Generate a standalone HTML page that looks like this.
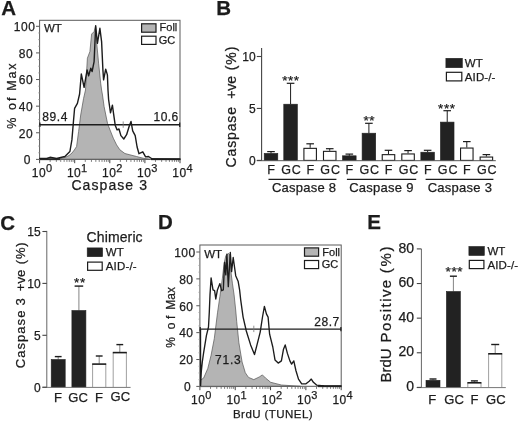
<!DOCTYPE html>
<html lang="en"><head><meta charset="utf-8"><title>Figure</title>
<style>
html,body{margin:0;padding:0;background:#fff;}
svg{display:block;font-family:"Liberation Sans",Arial,sans-serif;fill:#1c1c1c;filter:grayscale(1) blur(0.35px);}
text{stroke:#1c1c1c;stroke-width:0.25px;}
</style></head><body>
<svg width="520" height="421" viewBox="0 0 520 421">
<rect width="520" height="421" fill="#fff"/>
<text x="1.20" y="15.30" font-size="20.5" font-weight="bold">A</text>
<text x="216.20" y="15.00" font-size="20.5" font-weight="bold">B</text>
<text x="0.30" y="230.20" font-size="20.5" font-weight="bold">C</text>
<text x="157.90" y="228.60" font-size="20.5" font-weight="bold">D</text>
<text x="367.30" y="229.40" font-size="20.5" font-weight="bold">E</text>
<path d="M57.5 159.3 L62.0 158.2 L66.0 157.0 L69.0 155.5 L72.0 153.0 L74.3 150.0 L76.6 146.5 L78.6 131.6 L80.7 115.0 L83.6 98.3 L85.5 90.0 L87.4 58.2 L89.9 51.6 L91.6 34.1 L94.1 31.6 L95.5 25.8 L96.9 45.0 L98.6 63.2 L100.7 83.2 L101.6 90.0 L102.5 95.0 L104.1 106.6 L107.5 123.3 L110.0 129.9 L113.3 138.2 L116.6 144.9 L119.9 149.8 L124.9 153.5 L129.9 154.8 L136.5 156.5 L143.2 158.2 L149.8 159.3 Z" fill="#b4b4b4" stroke="#555" stroke-width="0.7" stroke-linejoin="round" stroke-linecap="round"/>
<rect x="39.60" y="20.30" width="140.40" height="139.00" fill="none" stroke="#5a5a5a" stroke-width="1.0"/>
<line x1="39.60" y1="159.20" x2="60.00" y2="159.20" stroke="#262626" stroke-width="1.9" stroke-linecap="butt"/>
<line x1="151.00" y1="159.20" x2="180.40" y2="159.20" stroke="#262626" stroke-width="1.9" stroke-linecap="butt"/>
<path d="M39.8 158.4 L46.7 158.5 L50.0 157.3 L56.6 158.5 L64.9 156.5 L69.9 151.5 L71.9 139.9 L73.3 123.3 L74.6 108.3 L77.4 103.3 L79.6 94.0 L81.3 74.0 L84.1 87.3 L87.1 69.9 L88.6 75.7 L90.8 68.2 L92.1 71.5 L94.1 61.6 L95.7 25.8 L97.4 43.3 L99.9 28.3 L101.6 41.6 L102.9 69.9 L103.6 79.9 L105.7 69.1 L107.4 74.9 L108.0 90.0 L108.6 99.5 L110.5 112.8 L112.4 105.2 L113.7 114.7 L115.2 125.2 L117.1 129.9 L119.0 129.0 L120.9 135.6 L123.8 139.0 L126.6 134.7 L129.5 125.2 L131.0 121.4 L132.7 130.9 L135.2 135.6 L137.1 147.0 L139.0 153.7 L142.8 151.8 L145.6 156.9 L148.5 156.5 L152.3 159.0 L180.0 159.3" fill="none" stroke="#1c1c1c" stroke-width="1.4" stroke-linejoin="round" stroke-linecap="round"/>
<line x1="39.60" y1="124.80" x2="180.00" y2="124.80" stroke="#1c1c1c" stroke-width="1.4" stroke-linecap="butt"/>
<line x1="39.90" y1="122.60" x2="39.90" y2="127.00" stroke="#1c1c1c" stroke-width="1.2" stroke-linecap="butt"/>
<line x1="179.70" y1="122.60" x2="179.70" y2="127.00" stroke="#1c1c1c" stroke-width="1.2" stroke-linecap="butt"/>
<line x1="123.20" y1="121.40" x2="123.20" y2="127.80" stroke="#777" stroke-width="0.8" stroke-linecap="butt"/>
<line x1="36.00" y1="159.40" x2="39.60" y2="159.40" stroke="#5a5a5a" stroke-width="1.0" stroke-linecap="butt"/>
<text x="31.00" y="164.20" font-size="12" text-anchor="end" letter-spacing="0.5">0</text>
<line x1="36.00" y1="132.78" x2="39.60" y2="132.78" stroke="#5a5a5a" stroke-width="1.0" stroke-linecap="butt"/>
<text x="33.20" y="137.58" font-size="12" text-anchor="end" letter-spacing="0.5">20</text>
<line x1="36.00" y1="106.16" x2="39.60" y2="106.16" stroke="#5a5a5a" stroke-width="1.0" stroke-linecap="butt"/>
<text x="33.20" y="110.96" font-size="12" text-anchor="end" letter-spacing="0.5">40</text>
<line x1="36.00" y1="79.54" x2="39.60" y2="79.54" stroke="#5a5a5a" stroke-width="1.0" stroke-linecap="butt"/>
<text x="33.20" y="84.34" font-size="12" text-anchor="end" letter-spacing="0.5">60</text>
<line x1="36.00" y1="52.92" x2="39.60" y2="52.92" stroke="#5a5a5a" stroke-width="1.0" stroke-linecap="butt"/>
<text x="33.20" y="57.72" font-size="12" text-anchor="end" letter-spacing="0.5">80</text>
<line x1="36.00" y1="26.30" x2="39.60" y2="26.30" stroke="#5a5a5a" stroke-width="1.0" stroke-linecap="butt"/>
<text x="35.40" y="31.10" font-size="12" text-anchor="end" letter-spacing="0.5">100</text>
<line x1="38.10" y1="152.75" x2="39.60" y2="152.75" stroke="#999" stroke-width="0.7" stroke-linecap="butt"/>
<line x1="38.10" y1="146.09" x2="39.60" y2="146.09" stroke="#999" stroke-width="0.7" stroke-linecap="butt"/>
<line x1="38.10" y1="139.44" x2="39.60" y2="139.44" stroke="#999" stroke-width="0.7" stroke-linecap="butt"/>
<line x1="38.10" y1="126.12" x2="39.60" y2="126.12" stroke="#999" stroke-width="0.7" stroke-linecap="butt"/>
<line x1="38.10" y1="119.47" x2="39.60" y2="119.47" stroke="#999" stroke-width="0.7" stroke-linecap="butt"/>
<line x1="38.10" y1="112.81" x2="39.60" y2="112.81" stroke="#999" stroke-width="0.7" stroke-linecap="butt"/>
<line x1="38.10" y1="99.51" x2="39.60" y2="99.51" stroke="#999" stroke-width="0.7" stroke-linecap="butt"/>
<line x1="38.10" y1="92.85" x2="39.60" y2="92.85" stroke="#999" stroke-width="0.7" stroke-linecap="butt"/>
<line x1="38.10" y1="86.20" x2="39.60" y2="86.20" stroke="#999" stroke-width="0.7" stroke-linecap="butt"/>
<line x1="38.10" y1="72.89" x2="39.60" y2="72.89" stroke="#999" stroke-width="0.7" stroke-linecap="butt"/>
<line x1="38.10" y1="66.23" x2="39.60" y2="66.23" stroke="#999" stroke-width="0.7" stroke-linecap="butt"/>
<line x1="38.10" y1="59.58" x2="39.60" y2="59.58" stroke="#999" stroke-width="0.7" stroke-linecap="butt"/>
<line x1="38.10" y1="46.27" x2="39.60" y2="46.27" stroke="#999" stroke-width="0.7" stroke-linecap="butt"/>
<line x1="38.10" y1="39.61" x2="39.60" y2="39.61" stroke="#999" stroke-width="0.7" stroke-linecap="butt"/>
<line x1="38.10" y1="32.96" x2="39.60" y2="32.96" stroke="#999" stroke-width="0.7" stroke-linecap="butt"/>
<line x1="39.60" y1="159.90" x2="39.60" y2="163.20" stroke="#444" stroke-width="1.0" stroke-linecap="butt"/>
<line x1="50.17" y1="159.90" x2="50.17" y2="161.90" stroke="#4a4a4a" stroke-width="0.7" stroke-linecap="butt"/>
<line x1="56.35" y1="159.90" x2="56.35" y2="161.90" stroke="#4a4a4a" stroke-width="0.7" stroke-linecap="butt"/>
<line x1="60.73" y1="159.90" x2="60.73" y2="161.90" stroke="#4a4a4a" stroke-width="0.7" stroke-linecap="butt"/>
<line x1="64.13" y1="159.90" x2="64.13" y2="161.90" stroke="#4a4a4a" stroke-width="0.7" stroke-linecap="butt"/>
<line x1="66.91" y1="159.90" x2="66.91" y2="161.90" stroke="#4a4a4a" stroke-width="0.7" stroke-linecap="butt"/>
<line x1="69.26" y1="159.90" x2="69.26" y2="161.90" stroke="#4a4a4a" stroke-width="0.7" stroke-linecap="butt"/>
<line x1="71.30" y1="159.90" x2="71.30" y2="161.90" stroke="#4a4a4a" stroke-width="0.7" stroke-linecap="butt"/>
<line x1="73.09" y1="159.90" x2="73.09" y2="161.90" stroke="#4a4a4a" stroke-width="0.7" stroke-linecap="butt"/>
<text x="39.00" y="177.00" font-size="12" text-anchor="middle" letter-spacing="0.5">10</text>
<text x="46.00" y="172.40" font-size="11">0</text>
<line x1="74.70" y1="159.90" x2="74.70" y2="163.20" stroke="#444" stroke-width="1.0" stroke-linecap="butt"/>
<line x1="85.27" y1="159.90" x2="85.27" y2="161.90" stroke="#4a4a4a" stroke-width="0.7" stroke-linecap="butt"/>
<line x1="91.45" y1="159.90" x2="91.45" y2="161.90" stroke="#4a4a4a" stroke-width="0.7" stroke-linecap="butt"/>
<line x1="95.83" y1="159.90" x2="95.83" y2="161.90" stroke="#4a4a4a" stroke-width="0.7" stroke-linecap="butt"/>
<line x1="99.23" y1="159.90" x2="99.23" y2="161.90" stroke="#4a4a4a" stroke-width="0.7" stroke-linecap="butt"/>
<line x1="102.01" y1="159.90" x2="102.01" y2="161.90" stroke="#4a4a4a" stroke-width="0.7" stroke-linecap="butt"/>
<line x1="104.36" y1="159.90" x2="104.36" y2="161.90" stroke="#4a4a4a" stroke-width="0.7" stroke-linecap="butt"/>
<line x1="106.40" y1="159.90" x2="106.40" y2="161.90" stroke="#4a4a4a" stroke-width="0.7" stroke-linecap="butt"/>
<line x1="108.19" y1="159.90" x2="108.19" y2="161.90" stroke="#4a4a4a" stroke-width="0.7" stroke-linecap="butt"/>
<text x="74.10" y="177.00" font-size="12" text-anchor="middle" letter-spacing="0.5">10</text>
<text x="81.10" y="172.40" font-size="11">1</text>
<line x1="109.80" y1="159.90" x2="109.80" y2="163.20" stroke="#444" stroke-width="1.0" stroke-linecap="butt"/>
<line x1="120.37" y1="159.90" x2="120.37" y2="161.90" stroke="#4a4a4a" stroke-width="0.7" stroke-linecap="butt"/>
<line x1="126.55" y1="159.90" x2="126.55" y2="161.90" stroke="#4a4a4a" stroke-width="0.7" stroke-linecap="butt"/>
<line x1="130.93" y1="159.90" x2="130.93" y2="161.90" stroke="#4a4a4a" stroke-width="0.7" stroke-linecap="butt"/>
<line x1="134.33" y1="159.90" x2="134.33" y2="161.90" stroke="#4a4a4a" stroke-width="0.7" stroke-linecap="butt"/>
<line x1="137.11" y1="159.90" x2="137.11" y2="161.90" stroke="#4a4a4a" stroke-width="0.7" stroke-linecap="butt"/>
<line x1="139.46" y1="159.90" x2="139.46" y2="161.90" stroke="#4a4a4a" stroke-width="0.7" stroke-linecap="butt"/>
<line x1="141.50" y1="159.90" x2="141.50" y2="161.90" stroke="#4a4a4a" stroke-width="0.7" stroke-linecap="butt"/>
<line x1="143.29" y1="159.90" x2="143.29" y2="161.90" stroke="#4a4a4a" stroke-width="0.7" stroke-linecap="butt"/>
<text x="109.20" y="177.00" font-size="12" text-anchor="middle" letter-spacing="0.5">10</text>
<text x="116.20" y="172.40" font-size="11">2</text>
<line x1="144.90" y1="159.90" x2="144.90" y2="163.20" stroke="#444" stroke-width="1.0" stroke-linecap="butt"/>
<line x1="155.47" y1="159.90" x2="155.47" y2="161.90" stroke="#4a4a4a" stroke-width="0.7" stroke-linecap="butt"/>
<line x1="161.65" y1="159.90" x2="161.65" y2="161.90" stroke="#4a4a4a" stroke-width="0.7" stroke-linecap="butt"/>
<line x1="166.03" y1="159.90" x2="166.03" y2="161.90" stroke="#4a4a4a" stroke-width="0.7" stroke-linecap="butt"/>
<line x1="169.43" y1="159.90" x2="169.43" y2="161.90" stroke="#4a4a4a" stroke-width="0.7" stroke-linecap="butt"/>
<line x1="172.21" y1="159.90" x2="172.21" y2="161.90" stroke="#4a4a4a" stroke-width="0.7" stroke-linecap="butt"/>
<line x1="174.56" y1="159.90" x2="174.56" y2="161.90" stroke="#4a4a4a" stroke-width="0.7" stroke-linecap="butt"/>
<line x1="176.60" y1="159.90" x2="176.60" y2="161.90" stroke="#4a4a4a" stroke-width="0.7" stroke-linecap="butt"/>
<line x1="178.39" y1="159.90" x2="178.39" y2="161.90" stroke="#4a4a4a" stroke-width="0.7" stroke-linecap="butt"/>
<text x="144.30" y="177.00" font-size="12" text-anchor="middle" letter-spacing="0.5">10</text>
<text x="151.30" y="172.40" font-size="11">3</text>
<line x1="180.00" y1="159.90" x2="180.00" y2="163.20" stroke="#444" stroke-width="1.0" stroke-linecap="butt"/>
<text x="179.40" y="177.00" font-size="12" text-anchor="middle" letter-spacing="0.5">10</text>
<text x="186.40" y="172.40" font-size="11">4</text>
<text x="42.30" y="121.30" font-size="12" textLength="25.20" lengthAdjust="spacing">89.4</text>
<text x="153.60" y="121.30" font-size="12" textLength="24.60" lengthAdjust="spacing">10.6</text>
<text x="44.00" y="32.30" font-size="11.5">WT</text>
<rect x="141.60" y="23.80" width="14.40" height="8.40" fill="#b4b4b4" stroke="#1c1c1c" stroke-width="1.2"/>
<rect x="141.60" y="36.20" width="14.40" height="8.20" fill="#fff" stroke="#1c1c1c" stroke-width="1.2"/>
<text x="159.60" y="31.30" font-size="11">Foll</text>
<text x="158.80" y="43.80" font-size="11">GC</text>
<text x="71.40" y="189.60" font-size="14" textLength="75.60" lengthAdjust="spacing">Caspase 3</text>
<text x="15.60" y="128.80" font-size="12.5" transform="rotate(-90 15.60 128.80)">%</text>
<text x="15.60" y="110.00" font-size="12.5" textLength="12.60" lengthAdjust="spacing" transform="rotate(-90 15.60 110.00)">of</text>
<text x="15.60" y="90.80" font-size="12.5" textLength="27.40" lengthAdjust="spacing" transform="rotate(-90 15.60 90.80)">Max</text>
<path d="M200.2 386.3 L200.3 380.2 L203.6 378.1 L207.8 368.4 L211.0 355.6 L214.3 338.5 L217.5 312.8 L219.9 296.5 L222.4 278.2 L224.1 263.3 L225.8 255.8 L228.3 253.3 L229.9 255.0 L230.7 269.9 L232.4 283.2 L234.1 294.9 L235.7 310.0 L236.7 321.4 L238.9 342.8 L242.1 362.0 L245.3 372.7 L248.5 377.4 L253.8 379.6 L259.2 377.0 L262.4 374.9 L265.6 378.1 L270.7 382.3 L281.4 385.0 L300.0 386.3 Z" fill="#b4b4b4" stroke="#555" stroke-width="0.7" stroke-linejoin="round" stroke-linecap="round"/>
<rect x="199.90" y="245.00" width="141.30" height="141.30" fill="none" stroke="#5a5a5a" stroke-width="1.0"/>
<line x1="318.00" y1="386.20" x2="341.60" y2="386.20" stroke="#262626" stroke-width="1.9" stroke-linecap="butt"/>
<path d="M200.5 329.5 L200.6 385.6 L201.3 371.4 L202.3 362.0 L203.6 352.9 L206.4 335.7 L208.5 327.0 L209.3 312.0 L210.0 294.9 L211.1 277.9 L213.0 289.9 L214.6 290.7 L215.8 299.0 L217.4 289.9 L219.9 283.6 L221.6 290.7 L223.3 289.9 L224.6 262.4 L225.8 274.9 L226.9 254.1 L228.3 286.6 L230.3 252.5 L231.6 271.6 L233.2 257.5 L235.7 275.7 L238.2 281.6 L239.6 289.9 L240.7 299.9 L243.1 317.1 L246.3 331.0 L250.6 344.9 L254.5 354.5 L257.0 344.9 L260.2 332.1 L262.5 317.0 L264.4 306.4 L266.4 313.9 L268.1 317.1 L269.6 334.2 L272.8 347.0 L275.0 359.9 L278.2 363.1 L281.4 360.9 L283.5 349.2 L285.2 344.9 L287.4 353.4 L289.9 360.9 L291.6 364.1 L293.8 360.9 L295.9 370.5 L298.5 379.1 L301.7 383.8 L306.0 383.8 L309.2 381.2 L311.3 379.1 L313.4 382.3 L316.6 385.1 L324.1 385.9 L341.0 386.1" fill="none" stroke="#1c1c1c" stroke-width="1.35" stroke-linejoin="round" stroke-linecap="round"/>
<line x1="199.90" y1="329.10" x2="341.20" y2="329.10" stroke="#1c1c1c" stroke-width="1.4" stroke-linecap="butt"/>
<line x1="200.20" y1="326.90" x2="200.20" y2="331.30" stroke="#1c1c1c" stroke-width="1.2" stroke-linecap="butt"/>
<line x1="340.90" y1="326.90" x2="340.90" y2="331.30" stroke="#1c1c1c" stroke-width="1.2" stroke-linecap="butt"/>
<line x1="253.80" y1="325.70" x2="253.80" y2="332.10" stroke="#777" stroke-width="0.8" stroke-linecap="butt"/>
<line x1="196.30" y1="386.40" x2="199.90" y2="386.40" stroke="#5a5a5a" stroke-width="1.0" stroke-linecap="butt"/>
<text x="191.30" y="391.20" font-size="12" text-anchor="end" letter-spacing="0.5">0</text>
<line x1="196.30" y1="359.52" x2="199.90" y2="359.52" stroke="#5a5a5a" stroke-width="1.0" stroke-linecap="butt"/>
<text x="193.50" y="364.32" font-size="12" text-anchor="end" letter-spacing="0.5">20</text>
<line x1="196.30" y1="332.64" x2="199.90" y2="332.64" stroke="#5a5a5a" stroke-width="1.0" stroke-linecap="butt"/>
<text x="193.50" y="337.44" font-size="12" text-anchor="end" letter-spacing="0.5">40</text>
<line x1="196.30" y1="305.76" x2="199.90" y2="305.76" stroke="#5a5a5a" stroke-width="1.0" stroke-linecap="butt"/>
<text x="193.50" y="310.56" font-size="12" text-anchor="end" letter-spacing="0.5">60</text>
<line x1="196.30" y1="278.88" x2="199.90" y2="278.88" stroke="#5a5a5a" stroke-width="1.0" stroke-linecap="butt"/>
<text x="193.50" y="283.68" font-size="12" text-anchor="end" letter-spacing="0.5">80</text>
<line x1="196.30" y1="252.00" x2="199.90" y2="252.00" stroke="#5a5a5a" stroke-width="1.0" stroke-linecap="butt"/>
<text x="195.70" y="256.80" font-size="12" text-anchor="end" letter-spacing="0.5">100</text>
<line x1="198.40" y1="379.68" x2="199.90" y2="379.68" stroke="#999" stroke-width="0.7" stroke-linecap="butt"/>
<line x1="198.40" y1="372.96" x2="199.90" y2="372.96" stroke="#999" stroke-width="0.7" stroke-linecap="butt"/>
<line x1="198.40" y1="366.24" x2="199.90" y2="366.24" stroke="#999" stroke-width="0.7" stroke-linecap="butt"/>
<line x1="198.40" y1="352.80" x2="199.90" y2="352.80" stroke="#999" stroke-width="0.7" stroke-linecap="butt"/>
<line x1="198.40" y1="346.08" x2="199.90" y2="346.08" stroke="#999" stroke-width="0.7" stroke-linecap="butt"/>
<line x1="198.40" y1="339.36" x2="199.90" y2="339.36" stroke="#999" stroke-width="0.7" stroke-linecap="butt"/>
<line x1="198.40" y1="325.92" x2="199.90" y2="325.92" stroke="#999" stroke-width="0.7" stroke-linecap="butt"/>
<line x1="198.40" y1="319.20" x2="199.90" y2="319.20" stroke="#999" stroke-width="0.7" stroke-linecap="butt"/>
<line x1="198.40" y1="312.48" x2="199.90" y2="312.48" stroke="#999" stroke-width="0.7" stroke-linecap="butt"/>
<line x1="198.40" y1="299.04" x2="199.90" y2="299.04" stroke="#999" stroke-width="0.7" stroke-linecap="butt"/>
<line x1="198.40" y1="292.32" x2="199.90" y2="292.32" stroke="#999" stroke-width="0.7" stroke-linecap="butt"/>
<line x1="198.40" y1="285.60" x2="199.90" y2="285.60" stroke="#999" stroke-width="0.7" stroke-linecap="butt"/>
<line x1="198.40" y1="272.16" x2="199.90" y2="272.16" stroke="#999" stroke-width="0.7" stroke-linecap="butt"/>
<line x1="198.40" y1="265.44" x2="199.90" y2="265.44" stroke="#999" stroke-width="0.7" stroke-linecap="butt"/>
<line x1="198.40" y1="258.72" x2="199.90" y2="258.72" stroke="#999" stroke-width="0.7" stroke-linecap="butt"/>
<line x1="199.90" y1="386.90" x2="199.90" y2="390.20" stroke="#444" stroke-width="1.0" stroke-linecap="butt"/>
<line x1="210.53" y1="386.90" x2="210.53" y2="388.90" stroke="#4a4a4a" stroke-width="0.7" stroke-linecap="butt"/>
<line x1="216.75" y1="386.90" x2="216.75" y2="388.90" stroke="#4a4a4a" stroke-width="0.7" stroke-linecap="butt"/>
<line x1="221.17" y1="386.90" x2="221.17" y2="388.90" stroke="#4a4a4a" stroke-width="0.7" stroke-linecap="butt"/>
<line x1="224.59" y1="386.90" x2="224.59" y2="388.90" stroke="#4a4a4a" stroke-width="0.7" stroke-linecap="butt"/>
<line x1="227.39" y1="386.90" x2="227.39" y2="388.90" stroke="#4a4a4a" stroke-width="0.7" stroke-linecap="butt"/>
<line x1="229.75" y1="386.90" x2="229.75" y2="388.90" stroke="#4a4a4a" stroke-width="0.7" stroke-linecap="butt"/>
<line x1="231.80" y1="386.90" x2="231.80" y2="388.90" stroke="#4a4a4a" stroke-width="0.7" stroke-linecap="butt"/>
<line x1="233.61" y1="386.90" x2="233.61" y2="388.90" stroke="#4a4a4a" stroke-width="0.7" stroke-linecap="butt"/>
<text x="198.30" y="403.50" font-size="12" text-anchor="middle" letter-spacing="0.5">10</text>
<text x="205.30" y="398.90" font-size="11">0</text>
<line x1="235.22" y1="386.90" x2="235.22" y2="390.20" stroke="#444" stroke-width="1.0" stroke-linecap="butt"/>
<line x1="245.86" y1="386.90" x2="245.86" y2="388.90" stroke="#4a4a4a" stroke-width="0.7" stroke-linecap="butt"/>
<line x1="252.08" y1="386.90" x2="252.08" y2="388.90" stroke="#4a4a4a" stroke-width="0.7" stroke-linecap="butt"/>
<line x1="256.49" y1="386.90" x2="256.49" y2="388.90" stroke="#4a4a4a" stroke-width="0.7" stroke-linecap="butt"/>
<line x1="259.92" y1="386.90" x2="259.92" y2="388.90" stroke="#4a4a4a" stroke-width="0.7" stroke-linecap="butt"/>
<line x1="262.71" y1="386.90" x2="262.71" y2="388.90" stroke="#4a4a4a" stroke-width="0.7" stroke-linecap="butt"/>
<line x1="265.08" y1="386.90" x2="265.08" y2="388.90" stroke="#4a4a4a" stroke-width="0.7" stroke-linecap="butt"/>
<line x1="267.13" y1="386.90" x2="267.13" y2="388.90" stroke="#4a4a4a" stroke-width="0.7" stroke-linecap="butt"/>
<line x1="268.93" y1="386.90" x2="268.93" y2="388.90" stroke="#4a4a4a" stroke-width="0.7" stroke-linecap="butt"/>
<text x="233.62" y="403.50" font-size="12" text-anchor="middle" letter-spacing="0.5">10</text>
<text x="240.62" y="398.90" font-size="11">1</text>
<line x1="270.55" y1="386.90" x2="270.55" y2="390.20" stroke="#444" stroke-width="1.0" stroke-linecap="butt"/>
<line x1="281.18" y1="386.90" x2="281.18" y2="388.90" stroke="#4a4a4a" stroke-width="0.7" stroke-linecap="butt"/>
<line x1="287.40" y1="386.90" x2="287.40" y2="388.90" stroke="#4a4a4a" stroke-width="0.7" stroke-linecap="butt"/>
<line x1="291.82" y1="386.90" x2="291.82" y2="388.90" stroke="#4a4a4a" stroke-width="0.7" stroke-linecap="butt"/>
<line x1="295.24" y1="386.90" x2="295.24" y2="388.90" stroke="#4a4a4a" stroke-width="0.7" stroke-linecap="butt"/>
<line x1="298.04" y1="386.90" x2="298.04" y2="388.90" stroke="#4a4a4a" stroke-width="0.7" stroke-linecap="butt"/>
<line x1="300.40" y1="386.90" x2="300.40" y2="388.90" stroke="#4a4a4a" stroke-width="0.7" stroke-linecap="butt"/>
<line x1="302.45" y1="386.90" x2="302.45" y2="388.90" stroke="#4a4a4a" stroke-width="0.7" stroke-linecap="butt"/>
<line x1="304.26" y1="386.90" x2="304.26" y2="388.90" stroke="#4a4a4a" stroke-width="0.7" stroke-linecap="butt"/>
<text x="268.95" y="403.50" font-size="12" text-anchor="middle" letter-spacing="0.5">10</text>
<text x="275.95" y="398.90" font-size="11">2</text>
<line x1="305.88" y1="386.90" x2="305.88" y2="390.20" stroke="#444" stroke-width="1.0" stroke-linecap="butt"/>
<line x1="316.51" y1="386.90" x2="316.51" y2="388.90" stroke="#4a4a4a" stroke-width="0.7" stroke-linecap="butt"/>
<line x1="322.73" y1="386.90" x2="322.73" y2="388.90" stroke="#4a4a4a" stroke-width="0.7" stroke-linecap="butt"/>
<line x1="327.14" y1="386.90" x2="327.14" y2="388.90" stroke="#4a4a4a" stroke-width="0.7" stroke-linecap="butt"/>
<line x1="330.57" y1="386.90" x2="330.57" y2="388.90" stroke="#4a4a4a" stroke-width="0.7" stroke-linecap="butt"/>
<line x1="333.36" y1="386.90" x2="333.36" y2="388.90" stroke="#4a4a4a" stroke-width="0.7" stroke-linecap="butt"/>
<line x1="335.73" y1="386.90" x2="335.73" y2="388.90" stroke="#4a4a4a" stroke-width="0.7" stroke-linecap="butt"/>
<line x1="337.78" y1="386.90" x2="337.78" y2="388.90" stroke="#4a4a4a" stroke-width="0.7" stroke-linecap="butt"/>
<line x1="339.58" y1="386.90" x2="339.58" y2="388.90" stroke="#4a4a4a" stroke-width="0.7" stroke-linecap="butt"/>
<text x="304.27" y="403.50" font-size="12" text-anchor="middle" letter-spacing="0.5">10</text>
<text x="311.27" y="398.90" font-size="11">3</text>
<line x1="341.20" y1="386.90" x2="341.20" y2="390.20" stroke="#444" stroke-width="1.0" stroke-linecap="butt"/>
<text x="339.60" y="403.50" font-size="12" text-anchor="middle" letter-spacing="0.5">10</text>
<text x="346.60" y="398.90" font-size="11">4</text>
<text x="215.00" y="363.70" font-size="12" textLength="25.80" lengthAdjust="spacing">71.3</text>
<text x="314.30" y="325.70" font-size="12" textLength="25.00" lengthAdjust="spacing">28.7</text>
<text x="204.20" y="257.60" font-size="11.5">WT</text>
<rect x="304.50" y="247.90" width="14.10" height="8.30" fill="#b4b4b4" stroke="#1c1c1c" stroke-width="1.2"/>
<rect x="304.50" y="260.50" width="14.10" height="8.10" fill="#fff" stroke="#1c1c1c" stroke-width="1.2"/>
<text x="322.30" y="255.60" font-size="11">Foll</text>
<text x="321.70" y="268.30" font-size="11">GC</text>
<text x="233.00" y="417.60" font-size="11.5" textLength="79.60" lengthAdjust="spacing">BrdU (TUNEL)</text>
<text x="175.40" y="347.80" font-size="12" transform="rotate(-90 175.40 347.80)">%</text>
<text x="175.40" y="329.30" font-size="12" textLength="13.60" lengthAdjust="spacing" transform="rotate(-90 175.40 329.30)">of</text>
<text x="175.40" y="309.80" font-size="12" textLength="22.80" lengthAdjust="spacing" transform="rotate(-90 175.40 309.80)">Max</text>
<line x1="271.00" y1="151.60" x2="271.00" y2="153.40" stroke="#1c1c1c" stroke-width="1.0" stroke-linecap="butt"/>
<line x1="267.20" y1="151.60" x2="274.80" y2="151.60" stroke="#1c1c1c" stroke-width="1.2" stroke-linecap="butt"/>
<rect x="264.20" y="153.40" width="13.60" height="7.00" fill="#222" stroke="#222" stroke-width="0.6"/>
<text x="271.10" y="174.40" font-size="12.5" text-anchor="middle">F</text>
<line x1="290.58" y1="83.30" x2="290.58" y2="104.20" stroke="#1c1c1c" stroke-width="1.0" stroke-linecap="butt"/>
<line x1="286.78" y1="83.30" x2="294.38" y2="83.30" stroke="#1c1c1c" stroke-width="1.2" stroke-linecap="butt"/>
<rect x="283.78" y="104.20" width="13.60" height="56.20" fill="#222" stroke="#222" stroke-width="0.6"/>
<text x="281.18" y="174.40" font-size="12.5" textLength="19.60" lengthAdjust="spacing">GC</text>
<line x1="310.16" y1="143.80" x2="310.16" y2="147.80" stroke="#1c1c1c" stroke-width="1.0" stroke-linecap="butt"/>
<line x1="306.36" y1="143.80" x2="313.96" y2="143.80" stroke="#1c1c1c" stroke-width="1.2" stroke-linecap="butt"/>
<rect x="303.91" y="148.35" width="12.50" height="12.05" fill="#fff" stroke="#1c1c1c" stroke-width="1.1"/>
<text x="310.26" y="174.40" font-size="12.5" text-anchor="middle">F</text>
<line x1="329.74" y1="148.70" x2="329.74" y2="150.80" stroke="#1c1c1c" stroke-width="1.0" stroke-linecap="butt"/>
<line x1="325.94" y1="148.70" x2="333.54" y2="148.70" stroke="#1c1c1c" stroke-width="1.2" stroke-linecap="butt"/>
<rect x="323.49" y="151.35" width="12.50" height="9.05" fill="#fff" stroke="#1c1c1c" stroke-width="1.1"/>
<text x="320.34" y="174.40" font-size="12.5" textLength="19.60" lengthAdjust="spacing">GC</text>
<line x1="349.32" y1="154.10" x2="349.32" y2="155.80" stroke="#1c1c1c" stroke-width="1.0" stroke-linecap="butt"/>
<line x1="345.52" y1="154.10" x2="353.12" y2="154.10" stroke="#1c1c1c" stroke-width="1.2" stroke-linecap="butt"/>
<rect x="342.52" y="155.80" width="13.60" height="4.60" fill="#222" stroke="#222" stroke-width="0.6"/>
<text x="349.42" y="174.40" font-size="12.5" text-anchor="middle">F</text>
<line x1="368.90" y1="123.30" x2="368.90" y2="133.20" stroke="#1c1c1c" stroke-width="1.0" stroke-linecap="butt"/>
<line x1="365.10" y1="123.30" x2="372.70" y2="123.30" stroke="#1c1c1c" stroke-width="1.2" stroke-linecap="butt"/>
<rect x="362.10" y="133.20" width="13.60" height="27.20" fill="#222" stroke="#222" stroke-width="0.6"/>
<text x="359.50" y="174.40" font-size="12.5" textLength="19.60" lengthAdjust="spacing">GC</text>
<line x1="388.48" y1="150.30" x2="388.48" y2="154.10" stroke="#1c1c1c" stroke-width="1.0" stroke-linecap="butt"/>
<line x1="384.68" y1="150.30" x2="392.28" y2="150.30" stroke="#1c1c1c" stroke-width="1.2" stroke-linecap="butt"/>
<rect x="382.23" y="154.65" width="12.50" height="5.75" fill="#fff" stroke="#1c1c1c" stroke-width="1.1"/>
<text x="388.58" y="174.40" font-size="12.5" text-anchor="middle">F</text>
<line x1="408.06" y1="150.60" x2="408.06" y2="153.40" stroke="#1c1c1c" stroke-width="1.0" stroke-linecap="butt"/>
<line x1="404.26" y1="150.60" x2="411.86" y2="150.60" stroke="#1c1c1c" stroke-width="1.2" stroke-linecap="butt"/>
<rect x="401.81" y="153.95" width="12.50" height="6.45" fill="#fff" stroke="#1c1c1c" stroke-width="1.1"/>
<text x="398.66" y="174.40" font-size="12.5" textLength="19.60" lengthAdjust="spacing">GC</text>
<line x1="427.64" y1="150.30" x2="427.64" y2="152.20" stroke="#1c1c1c" stroke-width="1.0" stroke-linecap="butt"/>
<line x1="423.84" y1="150.30" x2="431.44" y2="150.30" stroke="#1c1c1c" stroke-width="1.2" stroke-linecap="butt"/>
<rect x="420.84" y="152.20" width="13.60" height="8.20" fill="#222" stroke="#222" stroke-width="0.6"/>
<text x="427.74" y="174.40" font-size="12.5" text-anchor="middle">F</text>
<line x1="447.22" y1="110.70" x2="447.22" y2="122.10" stroke="#1c1c1c" stroke-width="1.0" stroke-linecap="butt"/>
<line x1="443.42" y1="110.70" x2="451.02" y2="110.70" stroke="#1c1c1c" stroke-width="1.2" stroke-linecap="butt"/>
<rect x="440.42" y="122.10" width="13.60" height="38.30" fill="#222" stroke="#222" stroke-width="0.6"/>
<text x="437.82" y="174.40" font-size="12.5" textLength="19.60" lengthAdjust="spacing">GC</text>
<line x1="466.80" y1="141.60" x2="466.80" y2="147.50" stroke="#1c1c1c" stroke-width="1.0" stroke-linecap="butt"/>
<line x1="463.00" y1="141.60" x2="470.60" y2="141.60" stroke="#1c1c1c" stroke-width="1.2" stroke-linecap="butt"/>
<rect x="460.55" y="148.05" width="12.50" height="12.35" fill="#fff" stroke="#1c1c1c" stroke-width="1.1"/>
<text x="466.90" y="174.40" font-size="12.5" text-anchor="middle">F</text>
<line x1="486.38" y1="154.60" x2="486.38" y2="156.50" stroke="#1c1c1c" stroke-width="1.0" stroke-linecap="butt"/>
<line x1="482.58" y1="154.60" x2="490.18" y2="154.60" stroke="#1c1c1c" stroke-width="1.2" stroke-linecap="butt"/>
<rect x="480.13" y="157.05" width="12.50" height="3.35" fill="#fff" stroke="#1c1c1c" stroke-width="1.1"/>
<text x="476.98" y="174.40" font-size="12.5" textLength="19.60" lengthAdjust="spacing">GC</text>
<line x1="261.60" y1="48.00" x2="261.60" y2="160.40" stroke="#444" stroke-width="1.1" stroke-linecap="butt"/>
<line x1="256.80" y1="160.70" x2="495.80" y2="160.70" stroke="#555" stroke-width="1.0" stroke-linecap="butt"/>
<line x1="256.80" y1="56.50" x2="261.60" y2="56.50" stroke="#444" stroke-width="1.1" stroke-linecap="butt"/>
<text x="255.60" y="60.90" font-size="12" text-anchor="end">10</text>
<line x1="256.80" y1="108.45" x2="261.60" y2="108.45" stroke="#444" stroke-width="1.1" stroke-linecap="butt"/>
<text x="255.60" y="112.85" font-size="12" text-anchor="end">5</text>
<line x1="256.80" y1="160.40" x2="261.60" y2="160.40" stroke="#444" stroke-width="1.1" stroke-linecap="butt"/>
<text x="255.60" y="164.80" font-size="12" text-anchor="end">0</text>
<line x1="268.50" y1="179.30" x2="336.40" y2="179.30" stroke="#1c1c1c" stroke-width="1.3" stroke-linecap="butt"/>
<text x="271.90" y="192.20" font-size="13" textLength="64.20" lengthAdjust="spacing">Caspase 8</text>
<line x1="346.90" y1="179.30" x2="416.20" y2="179.30" stroke="#1c1c1c" stroke-width="1.3" stroke-linecap="butt"/>
<text x="349.20" y="192.20" font-size="13" textLength="64.20" lengthAdjust="spacing">Caspase 9</text>
<line x1="425.60" y1="179.30" x2="493.40" y2="179.30" stroke="#1c1c1c" stroke-width="1.3" stroke-linecap="butt"/>
<text x="427.70" y="192.20" font-size="13" textLength="64.20" lengthAdjust="spacing">Caspase 3</text>
<text x="290.90" y="85.00" font-size="13.5" text-anchor="middle" letter-spacing="0.55">***</text>
<text x="369.20" y="124.80" font-size="13.5" text-anchor="middle" letter-spacing="0.55">**</text>
<text x="446.80" y="112.50" font-size="13.5" text-anchor="middle" letter-spacing="0.55">***</text>
<text x="236.40" y="167.40" font-size="14" textLength="60.40" lengthAdjust="spacing" transform="rotate(-90 236.40 167.40)">Caspase</text>
<text x="236.40" y="98.80" font-size="14" transform="rotate(-90 236.40 98.80)">+ve</text>
<text x="236.40" y="70.20" font-size="14" textLength="23.60" lengthAdjust="spacing" transform="rotate(-90 236.40 70.20)">(%)</text>
<rect x="445.90" y="58.30" width="16.40" height="9.40" fill="#222" stroke="#222" stroke-width="0.6"/>
<rect x="446.40" y="72.30" width="15.40" height="8.60" fill="#fff" stroke="#1c1c1c" stroke-width="1.2"/>
<text x="464.80" y="66.60" font-size="11.5">WT</text>
<text x="464.80" y="80.80" font-size="11.5" textLength="30.60" lengthAdjust="spacing">AID-/-</text>
<line x1="58.20" y1="356.60" x2="58.20" y2="359.50" stroke="#666" stroke-width="0.8" stroke-linecap="butt"/>
<line x1="54.80" y1="356.60" x2="61.60" y2="356.60" stroke="#1c1c1c" stroke-width="1.4" stroke-linecap="butt"/>
<rect x="51.20" y="359.50" width="14.00" height="27.70" fill="#222" stroke="#222" stroke-width="0.6"/>
<line x1="78.90" y1="286.10" x2="78.90" y2="310.50" stroke="#666" stroke-width="0.8" stroke-linecap="butt"/>
<line x1="74.60" y1="286.10" x2="83.20" y2="286.10" stroke="#1c1c1c" stroke-width="1.4" stroke-linecap="butt"/>
<rect x="71.90" y="310.50" width="14.00" height="76.70" fill="#222" stroke="#222" stroke-width="0.6"/>
<line x1="99.20" y1="356.00" x2="99.20" y2="363.80" stroke="#666" stroke-width="0.8" stroke-linecap="butt"/>
<line x1="95.80" y1="356.00" x2="102.60" y2="356.00" stroke="#1c1c1c" stroke-width="1.4" stroke-linecap="butt"/>
<rect x="92.20" y="363.80" width="14.00" height="23.40" fill="#fff"/>
<line x1="92.60" y1="363.80" x2="92.60" y2="387.20" stroke="#888" stroke-width="0.8" stroke-linecap="butt"/>
<line x1="105.80" y1="363.80" x2="105.80" y2="387.20" stroke="#888" stroke-width="0.8" stroke-linecap="butt"/>
<line x1="92.20" y1="364.10" x2="106.20" y2="364.10" stroke="#1c1c1c" stroke-width="1.6" stroke-linecap="butt"/>
<line x1="119.80" y1="344.60" x2="119.80" y2="352.30" stroke="#666" stroke-width="0.8" stroke-linecap="butt"/>
<line x1="116.40" y1="344.60" x2="123.20" y2="344.60" stroke="#1c1c1c" stroke-width="1.4" stroke-linecap="butt"/>
<rect x="112.80" y="352.30" width="14.00" height="34.90" fill="#fff"/>
<line x1="113.20" y1="352.30" x2="113.20" y2="387.20" stroke="#888" stroke-width="0.8" stroke-linecap="butt"/>
<line x1="126.40" y1="352.30" x2="126.40" y2="387.20" stroke="#888" stroke-width="0.8" stroke-linecap="butt"/>
<line x1="112.80" y1="352.60" x2="126.80" y2="352.60" stroke="#1c1c1c" stroke-width="1.6" stroke-linecap="butt"/>
<text x="58.00" y="402.00" font-size="13" text-anchor="middle">F</text>
<text x="68.30" y="402.00" font-size="13" textLength="19.60" lengthAdjust="spacing">GC</text>
<text x="99.00" y="402.00" font-size="13" text-anchor="middle">F</text>
<text x="110.50" y="401.20" font-size="13" textLength="19.60" lengthAdjust="spacing">GC</text>
<line x1="46.80" y1="230.90" x2="46.80" y2="387.20" stroke="#666" stroke-width="1.0" stroke-linecap="butt"/>
<line x1="42.40" y1="387.40" x2="130.60" y2="387.40" stroke="#777" stroke-width="1.0" stroke-linecap="butt"/>
<line x1="42.40" y1="231.50" x2="46.80" y2="231.50" stroke="#444" stroke-width="1.1" stroke-linecap="butt"/>
<text x="40.60" y="235.90" font-size="12" text-anchor="end">15</text>
<line x1="42.40" y1="283.40" x2="46.80" y2="283.40" stroke="#444" stroke-width="1.1" stroke-linecap="butt"/>
<text x="40.60" y="287.80" font-size="12" text-anchor="end">10</text>
<line x1="42.40" y1="335.30" x2="46.80" y2="335.30" stroke="#444" stroke-width="1.1" stroke-linecap="butt"/>
<text x="40.60" y="339.70" font-size="12" text-anchor="end">5</text>
<line x1="42.40" y1="387.20" x2="46.80" y2="387.20" stroke="#444" stroke-width="1.1" stroke-linecap="butt"/>
<text x="40.60" y="391.60" font-size="12" text-anchor="end">0</text>
<text x="79.90" y="286.50" font-size="13.5" text-anchor="middle" letter-spacing="0.55">**</text>
<text x="25.50" y="368.20" font-size="13" textLength="57.60" lengthAdjust="spacing" transform="rotate(-90 25.50 368.20)">Caspase</text>
<text x="25.50" y="305.40" font-size="13" transform="rotate(-90 25.50 305.40)">3</text>
<text x="25.50" y="291.20" font-size="13" transform="rotate(-90 25.50 291.20)">+ve</text>
<text x="25.50" y="264.20" font-size="13" textLength="21.80" lengthAdjust="spacing" transform="rotate(-90 25.50 264.20)">(%)</text>
<text x="86.60" y="241.70" font-size="14" textLength="56.00" lengthAdjust="spacing">Chimeric</text>
<rect x="87.20" y="247.90" width="15.40" height="8.80" fill="#222" stroke="#222" stroke-width="0.6"/>
<rect x="87.60" y="262.10" width="14.60" height="8.20" fill="#fff" stroke="#1c1c1c" stroke-width="1.2"/>
<text x="105.80" y="256.30" font-size="11.5">WT</text>
<text x="105.80" y="270.40" font-size="11.5" textLength="30.80" lengthAdjust="spacing">AID-/-</text>
<line x1="433.00" y1="379.00" x2="433.00" y2="380.30" stroke="#666" stroke-width="0.8" stroke-linecap="butt"/>
<line x1="429.50" y1="379.00" x2="436.50" y2="379.00" stroke="#1c1c1c" stroke-width="1.4" stroke-linecap="butt"/>
<rect x="426.00" y="380.30" width="14.00" height="7.10" fill="#222" stroke="#222" stroke-width="0.6"/>
<line x1="453.40" y1="276.20" x2="453.40" y2="291.50" stroke="#666" stroke-width="0.8" stroke-linecap="butt"/>
<line x1="449.90" y1="276.20" x2="456.90" y2="276.20" stroke="#1c1c1c" stroke-width="1.4" stroke-linecap="butt"/>
<rect x="446.40" y="291.50" width="14.00" height="95.90" fill="#222" stroke="#222" stroke-width="0.6"/>
<line x1="474.40" y1="380.90" x2="474.40" y2="382.50" stroke="#666" stroke-width="0.8" stroke-linecap="butt"/>
<line x1="470.90" y1="380.90" x2="477.90" y2="380.90" stroke="#1c1c1c" stroke-width="1.4" stroke-linecap="butt"/>
<rect x="467.40" y="382.50" width="14.00" height="4.90" fill="#fff"/>
<line x1="467.80" y1="382.50" x2="467.80" y2="387.40" stroke="#888" stroke-width="0.8" stroke-linecap="butt"/>
<line x1="481.00" y1="382.50" x2="481.00" y2="387.40" stroke="#888" stroke-width="0.8" stroke-linecap="butt"/>
<line x1="467.40" y1="382.80" x2="481.40" y2="382.80" stroke="#1c1c1c" stroke-width="1.6" stroke-linecap="butt"/>
<line x1="495.20" y1="344.50" x2="495.20" y2="353.50" stroke="#666" stroke-width="0.8" stroke-linecap="butt"/>
<line x1="491.20" y1="344.50" x2="499.20" y2="344.50" stroke="#1c1c1c" stroke-width="1.4" stroke-linecap="butt"/>
<rect x="488.20" y="353.50" width="14.00" height="33.90" fill="#fff"/>
<line x1="488.60" y1="353.50" x2="488.60" y2="387.40" stroke="#888" stroke-width="0.8" stroke-linecap="butt"/>
<line x1="501.80" y1="353.50" x2="501.80" y2="387.40" stroke="#888" stroke-width="0.8" stroke-linecap="butt"/>
<line x1="488.20" y1="353.80" x2="502.20" y2="353.80" stroke="#1c1c1c" stroke-width="1.6" stroke-linecap="butt"/>
<text x="432.20" y="403.60" font-size="13" text-anchor="middle">F</text>
<text x="444.30" y="403.60" font-size="13" textLength="19.60" lengthAdjust="spacing">GC</text>
<text x="474.40" y="403.60" font-size="13" text-anchor="middle">F</text>
<text x="486.00" y="403.60" font-size="13" textLength="19.60" lengthAdjust="spacing">GC</text>
<line x1="421.40" y1="248.90" x2="421.40" y2="387.40" stroke="#666" stroke-width="1.0" stroke-linecap="butt"/>
<line x1="416.80" y1="387.60" x2="505.80" y2="387.60" stroke="#777" stroke-width="1.0" stroke-linecap="butt"/>
<line x1="416.80" y1="248.90" x2="421.40" y2="248.90" stroke="#444" stroke-width="1.1" stroke-linecap="butt"/>
<text x="414.00" y="252.50" font-size="14" text-anchor="end">80</text>
<line x1="416.80" y1="283.52" x2="421.40" y2="283.52" stroke="#444" stroke-width="1.1" stroke-linecap="butt"/>
<text x="414.00" y="287.12" font-size="14" text-anchor="end">60</text>
<line x1="416.80" y1="318.15" x2="421.40" y2="318.15" stroke="#444" stroke-width="1.1" stroke-linecap="butt"/>
<text x="414.00" y="321.75" font-size="14" text-anchor="end">40</text>
<line x1="416.80" y1="352.77" x2="421.40" y2="352.77" stroke="#444" stroke-width="1.1" stroke-linecap="butt"/>
<text x="414.00" y="356.38" font-size="14" text-anchor="end">20</text>
<line x1="416.80" y1="387.40" x2="421.40" y2="387.40" stroke="#444" stroke-width="1.1" stroke-linecap="butt"/>
<text x="414.00" y="391.00" font-size="14" text-anchor="end">0</text>
<text x="454.30" y="275.80" font-size="13.5" text-anchor="middle" letter-spacing="0.55">***</text>
<text x="391.20" y="382.60" font-size="15" transform="rotate(-90 391.20 382.60)">BrdU</text>
<text x="391.20" y="342.40" font-size="15" textLength="62.60" lengthAdjust="spacing" transform="rotate(-90 391.20 342.40)">Positive</text>
<text x="391.20" y="273.20" font-size="15" textLength="26.80" lengthAdjust="spacing" transform="rotate(-90 391.20 273.20)">(%)</text>
<rect x="468.90" y="246.50" width="15.40" height="9.00" fill="#222" stroke="#222" stroke-width="0.6"/>
<rect x="469.30" y="260.40" width="14.60" height="8.20" fill="#fff" stroke="#1c1c1c" stroke-width="1.2"/>
<text x="487.40" y="254.60" font-size="11.5">WT</text>
<text x="487.40" y="268.60" font-size="11.5" textLength="30.80" lengthAdjust="spacing">AID-/-</text>
</svg>
</body></html>
